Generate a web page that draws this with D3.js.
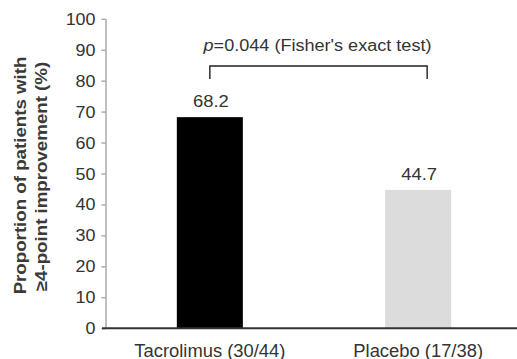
<!DOCTYPE html>
<html>
<head>
    <meta charset="UTF-8">
    <style>
        body { margin: 0; background: #fff; }
        text { font-family: "Liberation Sans", Arial, sans-serif; fill: #333; }
        .ytitle { font-weight: bold; fill: #3a3a3a; }
    </style>
    <script src="https://d3js.org/d3.v7.min.js"></script>
</head>
<body>
    <svg id="chart" width="517" height="359"></svg>
    <script>
        // datos
        var categories = ["Tacrolimus (30/44)", "Placebo (17/38)"];
        var values = [68.2, 44.7];
        var valueLabels = ["68.2", "44.7"];
        var barColors = ["#000000", "#dcdcdd"];
        var yTicks = [0, 10, 20, 30, 40, 50, 60, 70, 80, 90, 100];
        var pLabel = "=0.044 (Fisher's exact test)";

        var svg = d3.select("#chart");

        var x = d3.scaleBand().domain(categories).range([106, 522]).paddingInner(0.683).paddingOuter(0.34);
        var y = d3.scaleLinear().domain([0, 100]).range([328.3, 18.7]);

        // eje y
        var yAxis = svg.append("g")
            .attr("transform", "translate(105.5,0)")
            .call(d3.axisLeft(y).tickValues(yTicks).tickSize(4).tickPadding(6).tickSizeOuter(0));
        yAxis.select(".domain").attr("stroke", "#808080");
        yAxis.selectAll(".tick line").attr("stroke", "#808080");
        yAxis.selectAll(".tick text")
            .attr("font-size", "16px")
            .attr("fill", "#333")
            .attr("x", null)
            .attr("dy", null)
            .attr("text-anchor", "end")
            .attr("transform", "translate(-10,5.5) scale(1.12,1)");

        // barras
        svg.selectAll(".bar")
            .data(values)
            .enter()
            .append("rect")
            .attr("class", "bar")
            .attr("x", function(d, i) { return x(categories[i]); })
            .attr("y", function(d) { return y(d); })
            .attr("width", x.bandwidth())
            .attr("height", function(d) { return y(0) - y(d); })
            .attr("fill", function(d, i) { return barColors[i]; });

        // eje x
        svg.append("line")
            .attr("x1", 102).attr("x2", 517)
            .attr("y1", y(0)).attr("y2", y(0))
            .attr("stroke", "#333")
            .attr("stroke-width", 2);

        svg.selectAll(".cat")
            .data(categories)
            .enter()
            .append("text")
            .attr("class", "cat")
            .attr("transform", function(d) {
                return "translate(" + (x(d) + x.bandwidth() / 2) + ",356.5) scale(1.05,1)";
            })
            .attr("text-anchor", "middle")
            .attr("font-size", "17.5px")
            .text(function(d) { return d; });

        // valores
        svg.selectAll(".val")
            .data(values)
            .enter()
            .append("text")
            .attr("class", "val")
            .attr("transform", function(d, i) {
                return "translate(" + (x(categories[i]) + x.bandwidth() / 2 + 1) + "," + (y(d) - 10) + ") scale(1.15,1)";
            })
            .attr("text-anchor", "middle")
            .attr("font-size", "16px")
            .text(function(d, i) { return valueLabels[i]; });

        // corchete de significancia
        var bx1 = x(categories[0]) + x.bandwidth() / 2;
        var bx2 = x(categories[1]) + x.bandwidth() / 2 + 9;
        var by = y(84.7);
        svg.append("path")
            .attr("d", "M" + bx1 + "," + y(80.5) + "V" + by + "H" + bx2 + "V" + y(80.5))
            .attr("fill", "none")
            .attr("stroke", "#222")
            .attr("stroke-width", 1.4);

        var pt = svg.append("text")
            .attr("transform", "translate(" + ((bx1 + bx2) / 2 - 1) + ",51) scale(1.13,1)")
            .attr("text-anchor", "middle")
            .attr("font-size", "16px");
        pt.append("tspan").attr("font-style", "italic").text("p");
        pt.append("tspan").text(pLabel);

        // título eje y
        var yc = (y(0) + y(100)) / 2 + 2;
        svg.append("text")
            .attr("class", "ytitle")
            .attr("transform", "translate(25.5," + yc + ") rotate(-90) scale(1.1,1)")
            .attr("text-anchor", "middle")
            .attr("font-size", "17px")
            .text("Proportion of patients with");
        svg.append("text")
            .attr("class", "ytitle")
            .attr("transform", "translate(47," + (yc + 1) + ") rotate(-90) scale(1.1,1)")
            .attr("text-anchor", "middle")
            .attr("font-size", "17px")
            .text("≥4-point improvement (%)");
    </script>
</body>
</html>
